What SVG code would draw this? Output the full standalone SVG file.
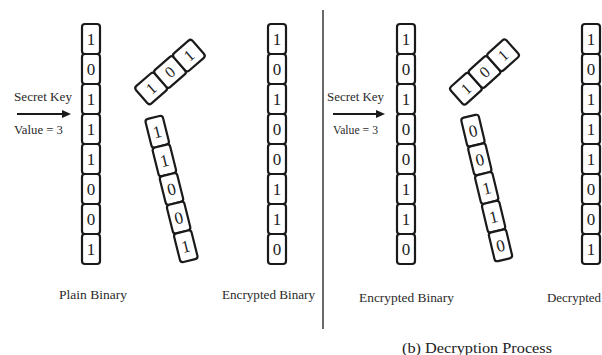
<svg xmlns="http://www.w3.org/2000/svg" width="602" height="355" viewBox="0 0 602 355">
<defs>
<marker id="ah" markerUnits="userSpaceOnUse" markerWidth="10" markerHeight="10" refX="0" refY="5" orient="auto">
<path d="M0,1 L9,5 L0,9 Z" fill="#1a1a1a"/>
</marker>
<style>
.c{fill:#fff;stroke:#1a1a1a;stroke-width:2.2}
.d{font-family:"Liberation Serif","Times New Roman",serif;font-size:17px;fill:#222;text-anchor:middle}
.g{font-family:"Liberation Serif","Times New Roman",serif;font-size:16px;fill:#222;text-anchor:middle}
.l{font-family:"Liberation Serif","Times New Roman",serif;font-size:12.5px;fill:#2a2a2a}
.k{font-family:"Liberation Serif","Times New Roman",serif;font-size:11.5px;fill:#2a2a2a}
.t{font-family:"Liberation Serif","Times New Roman",serif;font-size:14px;fill:#222}
.ar{stroke:#1a1a1a;stroke-width:2.2;fill:none}
</style>
</defs>
<rect width="602" height="355" fill="#fff"/>

<g id="connectors">
<line class="ar" x1="17" y1="114" x2="62" y2="114" marker-end="url(#ah)"/>
<line class="ar" x1="333" y1="114" x2="376" y2="114" marker-end="url(#ah)"/>
<line x1="323" y1="10" x2="323" y2="329" stroke="#444" stroke-width="1.6"/>
</g>

<g id="key-left">
<text class="k" x="14" y="101" textLength="58" lengthAdjust="spacingAndGlyphs">Secret Key</text>
<text class="k" x="14" y="134" textLength="49" lengthAdjust="spacingAndGlyphs">Value = 3</text>
</g>
<g id="key-right">
<text class="k" x="327" y="101" textLength="57" lengthAdjust="spacingAndGlyphs">Secret Key</text>
<text class="k" x="333" y="134" textLength="45" lengthAdjust="spacingAndGlyphs">Value = 3</text>
</g>

<g id="plain-binary" transform="translate(82,24)">
<rect class="c" x="0" y="0" width="18" height="30" rx="3"/>
<rect class="c" x="0" y="30" width="18" height="30" rx="3"/>
<rect class="c" x="0" y="60" width="18" height="30" rx="3"/>
<rect class="c" x="0" y="90" width="18" height="30" rx="3"/>
<rect class="c" x="0" y="120" width="18" height="30" rx="3"/>
<rect class="c" x="0" y="150" width="18" height="30" rx="3"/>
<rect class="c" x="0" y="180" width="18" height="30" rx="3"/>
<rect class="c" x="0" y="210" width="18" height="30" rx="3"/>
<text class="d" x="9" y="21">1</text>
<text class="d" x="9" y="51">0</text>
<text class="d" x="9" y="81">1</text>
<text class="d" x="9" y="111">1</text>
<text class="d" x="9" y="141">1</text>
<text class="d" x="9" y="171">0</text>
<text class="d" x="9" y="201">0</text>
<text class="d" x="9" y="231">1</text>
</g>

<g id="shift-group-left" transform="translate(170,72) rotate(-41)">
<rect class="c" x="-37.5" y="-11.5" width="25" height="23" rx="3"/>
<rect class="c" x="-12.5" y="-11.5" width="25" height="23" rx="3"/>
<rect class="c" x="12.5" y="-11.5" width="25" height="23" rx="3"/>
<text class="g" x="-25" y="5.5">1</text>
<text class="g" x="0" y="5.5">0</text>
<text class="g" x="25" y="5.5">1</text>
</g>

<g id="shift-chain-left" transform="translate(171.5,189) rotate(-14)">
<rect class="c" x="-9" y="-73.75" width="18" height="29.5" rx="3"/>
<rect class="c" x="-9" y="-44.25" width="18" height="29.5" rx="3"/>
<rect class="c" x="-9" y="-14.75" width="18" height="29.5" rx="3"/>
<rect class="c" x="-9" y="14.75" width="18" height="29.5" rx="3"/>
<rect class="c" x="-9" y="44.25" width="18" height="29.5" rx="3"/>
<text class="d" x="0" y="-53">1</text>
<text class="d" x="0" y="-23.5">1</text>
<text class="d" x="0" y="6">0</text>
<text class="d" x="0" y="35.5">0</text>
<text class="d" x="0" y="65">1</text>
</g>

<g id="encrypted-binary-left" transform="translate(268,24)">
<rect class="c" x="0" y="0" width="18" height="30" rx="3"/>
<rect class="c" x="0" y="30" width="18" height="30" rx="3"/>
<rect class="c" x="0" y="60" width="18" height="30" rx="3"/>
<rect class="c" x="0" y="90" width="18" height="30" rx="3"/>
<rect class="c" x="0" y="120" width="18" height="30" rx="3"/>
<rect class="c" x="0" y="150" width="18" height="30" rx="3"/>
<rect class="c" x="0" y="180" width="18" height="30" rx="3"/>
<rect class="c" x="0" y="210" width="18" height="30" rx="3"/>
<text class="d" x="9" y="21">1</text>
<text class="d" x="9" y="51">0</text>
<text class="d" x="9" y="81">1</text>
<text class="d" x="9" y="111">0</text>
<text class="d" x="9" y="141">0</text>
<text class="d" x="9" y="171">1</text>
<text class="d" x="9" y="201">1</text>
<text class="d" x="9" y="231">0</text>
</g>

<g id="encrypted-binary-right" transform="translate(397,24)">
<rect class="c" x="0" y="0" width="18" height="30" rx="3"/>
<rect class="c" x="0" y="30" width="18" height="30" rx="3"/>
<rect class="c" x="0" y="60" width="18" height="30" rx="3"/>
<rect class="c" x="0" y="90" width="18" height="30" rx="3"/>
<rect class="c" x="0" y="120" width="18" height="30" rx="3"/>
<rect class="c" x="0" y="150" width="18" height="30" rx="3"/>
<rect class="c" x="0" y="180" width="18" height="30" rx="3"/>
<rect class="c" x="0" y="210" width="18" height="30" rx="3"/>
<text class="d" x="9" y="21">1</text>
<text class="d" x="9" y="51">0</text>
<text class="d" x="9" y="81">1</text>
<text class="d" x="9" y="111">0</text>
<text class="d" x="9" y="141">0</text>
<text class="d" x="9" y="171">1</text>
<text class="d" x="9" y="201">1</text>
<text class="d" x="9" y="231">0</text>
</g>

<g id="shift-group-right" transform="translate(484.5,72) rotate(-42)">
<rect class="c" x="-37.5" y="-11.5" width="25" height="23" rx="3"/>
<rect class="c" x="-12.5" y="-11.5" width="25" height="23" rx="3"/>
<rect class="c" x="12.5" y="-11.5" width="25" height="23" rx="3"/>
<text class="g" x="-25" y="5.5">1</text>
<text class="g" x="0" y="5.5">0</text>
<text class="g" x="25" y="5.5">1</text>
</g>

<g id="shift-chain-right" transform="translate(486.7,188) rotate(-13.5)">
<rect class="c" x="-9" y="-73.75" width="18" height="29.5" rx="3"/>
<rect class="c" x="-9" y="-44.25" width="18" height="29.5" rx="3"/>
<rect class="c" x="-9" y="-14.75" width="18" height="29.5" rx="3"/>
<rect class="c" x="-9" y="14.75" width="18" height="29.5" rx="3"/>
<rect class="c" x="-9" y="44.25" width="18" height="29.5" rx="3"/>
<text class="d" x="0" y="-53">0</text>
<text class="d" x="0" y="-23.5">0</text>
<text class="d" x="0" y="6">1</text>
<text class="d" x="0" y="35.5">1</text>
<text class="d" x="0" y="65">0</text>
</g>

<g id="decrypted-binary" transform="translate(582,24)">
<rect class="c" x="0" y="0" width="18" height="30" rx="3"/>
<rect class="c" x="0" y="30" width="18" height="30" rx="3"/>
<rect class="c" x="0" y="60" width="18" height="30" rx="3"/>
<rect class="c" x="0" y="90" width="18" height="30" rx="3"/>
<rect class="c" x="0" y="120" width="18" height="30" rx="3"/>
<rect class="c" x="0" y="150" width="18" height="30" rx="3"/>
<rect class="c" x="0" y="180" width="18" height="30" rx="3"/>
<rect class="c" x="0" y="210" width="18" height="30" rx="3"/>
<text class="d" x="9" y="21">1</text>
<text class="d" x="9" y="51">0</text>
<text class="d" x="9" y="81">1</text>
<text class="d" x="9" y="111">1</text>
<text class="d" x="9" y="141">1</text>
<text class="d" x="9" y="171">0</text>
<text class="d" x="9" y="201">0</text>
<text class="d" x="9" y="231">1</text>
</g>

<g id="labels">
<text class="l" x="59" y="299" textLength="68" lengthAdjust="spacingAndGlyphs">Plain Binary</text>
<text class="l" x="222" y="299" textLength="93" lengthAdjust="spacingAndGlyphs">Encrypted Binary</text>
<text class="l" x="359" y="302" textLength="95" lengthAdjust="spacingAndGlyphs">Encrypted Binary</text>
<text class="l" x="547" y="302" textLength="54" lengthAdjust="spacingAndGlyphs">Decrypted</text>
<text class="t" x="402" y="353" textLength="150" lengthAdjust="spacingAndGlyphs">(b) Decryption Process</text>
</g>
</svg>
